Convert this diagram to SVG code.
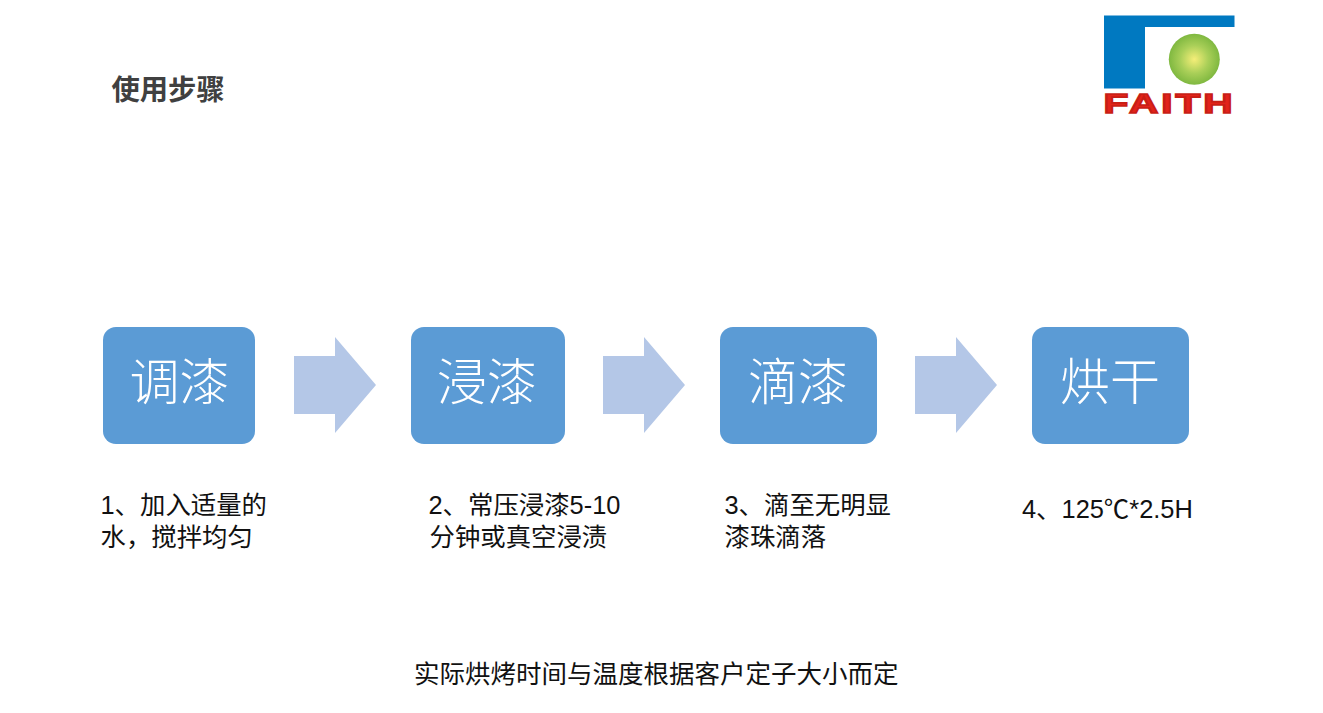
<svg xmlns="http://www.w3.org/2000/svg" width="1323" height="713" viewBox="0 0 1323 713">
<style>
text{font-family:"Liberation Sans","Noto Sans CJK SC",sans-serif;fill:#111}
.box{fill:#5b9bd5}
.arrow{fill:#b4c7e7}
.head{font-size:50px;fill:#fff;text-anchor:middle;font-family:"Noto Sans CJK SC",sans-serif;font-weight:300}
.lab{font-size:25.400px}
</style>
<defs>
<radialGradient id="ball"><stop offset="0" stop-color="#f5ee78"/><stop offset="0.55" stop-color="#a9cf58"/><stop offset="1" stop-color="#7fb840"/></radialGradient>
</defs>
<rect width="1323" height="713" fill="#fff"/>
<text id="title" x="111.500" y="99.500" font-size="28.300" font-weight="700" style="fill:#404040">使用步骤</text>
<g id="logo">
<path d="M1104 15.500H1234.500V27H1145V88.500H1104Z" fill="#0079c1"/>
<circle cx="1194.300" cy="59.300" r="25.500" fill="url(#ball)"/>
<text x="1169.500" y="112.500" font-size="28" text-anchor="middle" textLength="132" lengthAdjust="spacingAndGlyphs" style="fill:#e2231a;font-family:'Liberation Sans';font-weight:700;stroke:#c81e16;stroke-width:1.600;letter-spacing:2px">FAITH</text>
</g>
<g id="node1"><rect class="box" x="103" y="327" width="152" height="117" rx="13"/><text class="head" x="179.500" y="400">调漆</text></g>
<g id="node2"><rect class="box" x="411" y="327" width="154" height="117" rx="13"/><text class="head" x="487" y="400">浸漆</text></g>
<g id="node3"><rect class="box" x="720" y="327" width="157" height="117" rx="13"/><text class="head" x="798" y="400">滴漆</text></g>
<g id="node4"><rect class="box" x="1032" y="327" width="157" height="117" rx="13"/><text class="head" x="1110" y="400">烘干</text></g>
<g id="connectors">
<path class="arrow" d="M294 356H335V337L376 385L335 433V414H294Z"/>
<path class="arrow" d="M603 356H644V337L685 385L644 433V414H603Z"/>
<path class="arrow" d="M915 356H956V337L997 385L956 433V414H915Z"/>
</g>
<g id="labels">
<text class="lab" x="100.500" y="514">1、加入适量的</text>
<text class="lab" x="100.500" y="546">水，搅拌均匀</text>
<text class="lab" x="428.500" y="514">2、常压浸漆5-10</text>
<text class="lab" x="429.500" y="546">分钟或真空浸渍</text>
<text class="lab" x="724.500" y="514">3、滴至无明显</text>
<text class="lab" x="724.500" y="546">漆珠滴落</text>
<text class="lab" x="1022" y="518">4、125℃*2.5H</text>
<text x="414" y="683" font-size="25.500">实际烘烤时间与温度根据客户定子大小而定</text>
</g>
</svg>
